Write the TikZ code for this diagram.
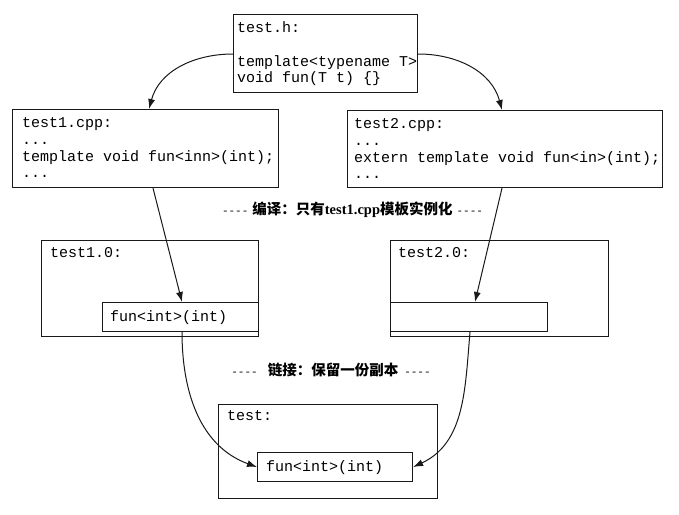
\documentclass[tikz,border=0pt]{standalone}
\usepackage{fontspec}
\setmonofont{Liberation Mono}
\newfontfamily\cjk{Noto Sans CJK SC}
\newfontfamily\latinserif{Liberation Serif}
\newcommand\dashrun{{\ttfamily\fontsize{11}{13}\selectfont----}}
\usetikzlibrary{arrows.meta,calc}

\begin{document}
\begin{tikzpicture}[x=1pt,y=1pt,
  box/.style={draw=black!90, line width=1.1pt, fill=white, inner sep=0pt, anchor=north west},
  code/.style={font=\ttfamily\fontsize{15}{17}\selectfont, anchor=base west, inner sep=0pt, text=black},
  flow/.style={draw=black!90, line width=1pt, -{Latex[length=10pt,width=7pt]}},
  caption/.style={font=\fontsize{14.5}{17}\selectfont, inner sep=0pt, text=black}
]
\useasboundingbox (0,0) rectangle (679,-514);

% source files
\node[box, minimum width=184, minimum height=78] (h) at (233,-14) {};
\node[box, minimum width=266, minimum height=78] (c1) at (12,-109) {};
\node[box, minimum width=315, minimum height=77] (c2) at (347,-110) {};

% object files
\node[box, minimum width=217, minimum height=96] (o1) at (41,-240) {};
\node[box, minimum width=156, minimum height=29] (f1) at (102,-302) {};
\node[box, minimum width=218, minimum height=96] (o2) at (390,-240) {};
\node[box, minimum width=157, minimum height=29] (f2) at (390,-302) {};

% linked executable
\node[box, minimum width=219, minimum height=94] (t) at (218,-404) {};
\node[box, minimum width=155, minimum height=29] (ft) at (257,-452) {};

% header text
\node[code] (h1) at (237,-32) {test.h:};
\node[code] (h2) at (237,-66) {template<typename T>};
\node[code] (h3) at (237,-82.5) {void fun(T t) \{\}};

% test1.cpp text
\node[code] (a1) at (22,-127) {test1.cpp:};
\node[code] (a2) at (22,-144) {...};
\node[code] (a3) at (22,-161) {template void fun<inn>(int);};
\node[code] (a4) at (22,-177.5) {...};

% test2.cpp text
\node[code] (b1) at (354,-128) {test2.cpp:};
\node[code] (b2) at (354,-145) {...};
\node[code] (b3) at (354,-162) {extern template void fun<in>(int);};
\node[code] (b4) at (354,-178.5) {...};

% object file text
\node[code] (o1t) at (50,-257) {test1.0:};
\node[code] (f1t) at (110,-321) {fun<int>(int)};
\node[code] (o2t) at (398,-257) {test2.0:};

% executable text
\node[code] (tt) at (227,-420) {test:};
\node[code] (ftt) at (266,-471) {fun<int>(int)};

% stage captions
\node[caption] (cap1) at (352.5,-210)
  {\dashrun\hspace{4pt}{\cjk\bfseries 编译：只有}{\latinserif\bfseries test1.cpp}{\cjk\bfseries 模板实例化}\hspace{4pt}\dashrun};
\node[caption] (cap2) at (331,-370)
  {\dashrun\hspace{10pt}{\cjk\bfseries 链接：保留一份副本}\hspace{6pt}\dashrun};

% header included by both sources
\draw[flow] ($(h.north west)+(0,-40)$) to[out=180,in=75] ($(c1.north west)+(137,0)$);
\draw[flow] ($(h.north east)+(0,-40)$) to[out=0,in=105] ($(c2.north west)+(155,0)$);

% compilation
\draw[flow] ($(c1.south west)+(141,0)$) -- ($(f1.north west)+(80,0)$);
\draw[flow] ($(c2.south west)+(155,0)$) -- ($(f2.north west)+(85,0)$);

% linking
\draw[flow] ($(f1.south west)+(80,0)$) to[out=-90,in=160] (ft.west);
\draw[flow] ($(f2.south west)+(80,0)$) to[out=-95,in=25] (ft.east);
\end{tikzpicture}
\end{document}
